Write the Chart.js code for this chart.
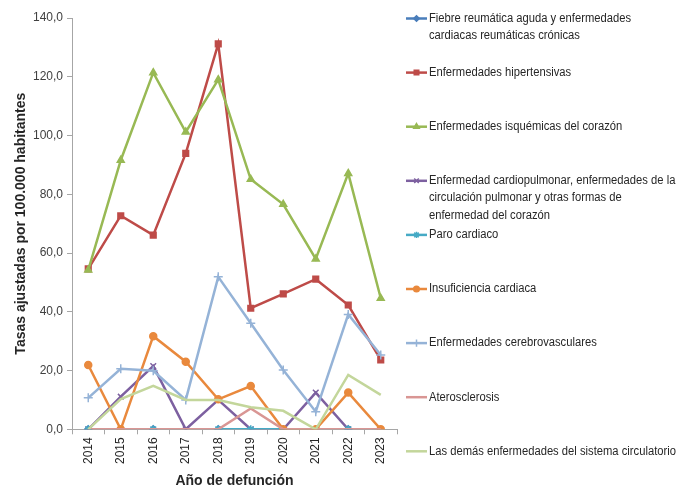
<!DOCTYPE html>
<html>
<head>
<meta charset="utf-8">
<script src="https://cdn.jsdelivr.net/npm/chart.js@4/dist/chart.umd.min.js"></script>
<style>
  body { margin: 0; background: #fff; }
  #wrap { width: 678px; height: 487px; }
</style>
</head>
<body>
<div id="wrap"><canvas id="chart" width="678" height="487"></canvas></div>
<script>
// data
const years = ['2014', '2015', '2016', '2017', '2018', '2019', '2020', '2021', '2022', '2023'];
const fiebre = [0, null, 0, null, 0, null, null, null, 0, null];
const hipertensivas = [54.6, 72.7, 66.1, 93.9, 131.2, 41.2, 46.1, 51.1, 42.3, 23.6];
const isquemicas = [54.2, 91.6, 121.4, 101.2, 119.0, 85.1, 76.6, 58.0, 87.1, 44.6];
const cardiopulmonar = [0, 11.1, 21.5, 0, 10.0, 0, 0, 12.5, 0, null];
const paro = [0, null, 0, null, 0, 0, 0, null, 0, null];
const insuficiencia = [21.9, 0, 31.7, 23.0, 10.2, 14.7, 0, 0, 12.5, 0];
const cerebro = [10.7, 20.6, 19.9, 10.0, 51.9, 36.1, 20.2, 6.0, 39.1, 25.3];
const atero = [0, 0, 0, 0, 0, 7.1, 0, 0, 0, 0];
const demas = [0, 10.3, 14.8, 10.0, 10.0, 7.5, 6.3, 0, 18.5, 11.7];
const yTicks = [0, 20, 40, 60, 80, 100, 120, 140];

const series = [
    { label: ['Fiebre reumática aguda y enfermedades', 'cardiacas reumáticas crónicas'], data: fiebre, color: '#4a7ebb', point: 'rectRot', r: 3.5 },
    { label: ['Enfermedades hipertensivas'], data: hipertensivas, color: '#be4b48', point: 'rect', r: 4 },
    { label: ['Enfermedades isquémicas del corazón'], data: isquemicas, color: '#98b954', point: 'triangle', r: 4 },
    { label: ['Enfermedad cardiopulmonar, enfermedades de la', 'circulación pulmonar y otras formas de', 'enfermedad del corazón'], data: cardiopulmonar, color: '#7d60a0', point: 'crossRot', r: 4 },
    { label: ['Paro cardiaco'], data: paro, color: '#46aac5', point: 'star', r: 4 },
    { label: ['Insuficiencia cardiaca'], data: insuficiencia, color: '#e9893d', point: 'circle', r: 3.5 },
    { label: ['Enfermedades cerebrovasculares'], data: cerebro, color: '#95b3d7', point: 'cross', r: 4.5 },
    { label: ['Aterosclerosis'], data: atero, color: '#d99694', point: false, r: 0 },
    { label: ['Las demás enfermedades del sistema circulatorio'], data: demas, color: '#c3d69b', point: false, r: 0 }
];

const fontFamily = '"Liberation Sans", Arial, sans-serif';
const lineMarkers = ['star', 'cross', 'crossRot'];

// legend drawn on the right, like the spreadsheet original
const sideLegend = {
    id: 'sideLegend',
    afterDraw(chart) {
        const ctx = chart.ctx;
        ctx.save();
        series.forEach((s, i) => {
            const y = 18.5 + i * 54.1;
            ctx.strokeStyle = s.color;
            ctx.lineWidth = 2.5;
            ctx.beginPath();
            ctx.moveTo(406, y);
            ctx.lineTo(427, y);
            ctx.stroke();
            if (s.point) {
                ctx.fillStyle = lineMarkers.includes(s.point) ? 'rgba(0,0,0,0)' : s.color;
                ctx.lineWidth = 1.5;
                Chart.helpers.drawPoint(ctx, {
                    pointStyle: s.point, radius: s.r * 0.8, rotation: 0, borderWidth: 1.5
                }, 416.5, y);
            }
            ctx.fillStyle = '#262626';
            ctx.font = '12px ' + fontFamily;
            ctx.textBaseline = 'middle';
            ctx.textAlign = 'left';
            s.label.forEach((line, k) => {
                ctx.save();
                ctx.translate(429, y + k * 17.3);
                ctx.scale(0.935, 1);
                ctx.fillText(line, 0, 0);
                ctx.restore();
            });
        });
        ctx.restore();
    }
};

const ctx = document.getElementById('chart').getContext('2d');
const chart = new Chart(ctx, {
    type: 'line',
    data: {
        labels: years,
        datasets: series.map((s, i) => ({
            label: s.label.join(' '),
            data: s.data,
            borderColor: s.color,
            backgroundColor: s.color,
            borderWidth: 2.5,
            pointStyle: s.point,
            pointRadius: s.r,
            pointBorderWidth: 1.5,
            pointBorderColor: s.color,
            pointBackgroundColor: s.color,
            tension: 0,
            spanGaps: false,
            order: series.length - i
        }))
    },
    options: {
        responsive: false,
        animation: false,
        layout: { padding: { top: 18, right: 281, left: 0, bottom: 0 } },
        plugins: {
            legend: { display: false },
            tooltip: { enabled: false }
        },
        scales: {
            x: {
                offset: true,
                grid: { offset: true, drawOnChartArea: false, drawTicks: true, tickLength: 5, color: '#a6a6a6' },
                border: { display: true, color: '#a6a6a6', width: 1 },
                ticks: {
                    minRotation: 90, maxRotation: 90, padding: 3,
                    color: '#262626',
                    font: { family: fontFamily, size: 12 }
                },
                title: {
                    display: true,
                    text: 'Año de defunción',
                    color: '#262626',
                    padding: { top: 0, bottom: 0 },
                    font: { family: fontFamily, size: 14, weight: 'bold', lineHeight: 0.8 }
                },
                afterFit(scale) { scale.height = 57.7; }
            },
            y: {
                min: 0,
                max: 140,
                afterBuildTicks(scale) { scale.ticks = yTicks.map(v => ({ value: v })); },
                grid: { drawOnChartArea: false, drawTicks: true, tickLength: 5, color: '#a6a6a6' },
                border: { display: true, color: '#a6a6a6', width: 1 },
                ticks: {
                    padding: 4,
                    color: '#404040',
                    font: { family: fontFamily, size: 12 },
                    callback: v => v.toFixed(1).replace('.', ',')
                },
                title: {
                    display: true,
                    text: 'Tasas ajustadas por 100.000 habitantes',
                    color: '#262626',
                    padding: { top: 13, bottom: 0 },
                    font: { family: fontFamily, size: 14, weight: 'bold' }
                },
                afterFit(scale) { scale.width = 72; }
            }
        }
    },
    plugins: [sideLegend]
});
</script>
</body>
</html>
